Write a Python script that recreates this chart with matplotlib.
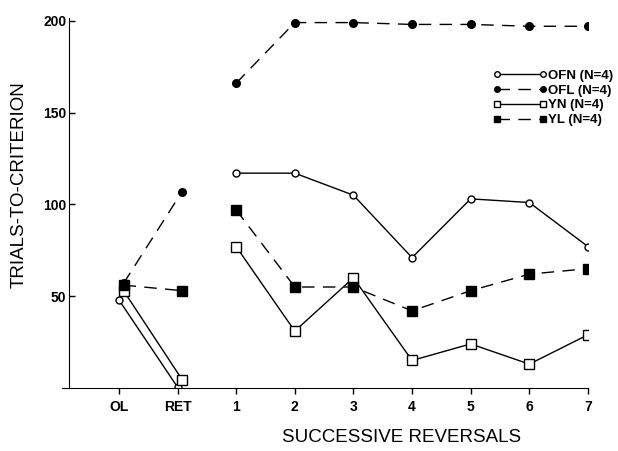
import numpy as np
import matplotlib
matplotlib.use('Agg')
from matplotlib import pyplot as plt

plt.rcParams['font.family'] = ['Liberation Sans', 'DejaVu Sans']

###### Data
tick_labels = ['OL', 'RET', '1', '2', '3', '4', '5', '6', '7']
x_pre = [0, 1]          # OL, RET
x_rev = [2, 3, 4, 5, 6, 7, 8]   # reversals 1..7

OFN_pre = [48, 0.5]
OFN_rev = [117, 117, 105, 71, 103, 101, 77]
OFL_pre = [57, 107]
OFL_rev = [166, 199, 199, 198, 198, 197, 197]
YN_pre = [53, 4.5]
YN_rev = [77, 31, 60, 15, 24, 13, 29]
YL_pre = [56, 53]
YL_rev = [97, 55, 55, 42, 53, 62, 65]

###### Plot
fig = plt.figure(figsize=(6.18, 4.51), dpi=100)
ax = fig.add_axes([0.1003, 0.1397, 0.8511, 0.8204])

dash = (0, (9, 6))
sty = {
    'OFN': dict(color='k', lw=1.0, ls='-', marker='o', ms=5, mfc='white', mec='k', mew=1.0),
    'OFL': dict(color='k', lw=1.0, ls=dash, marker='o', ms=5.5, mfc='k', mec='k'),
    'YN': dict(color='k', lw=1.0, ls='-', marker='s', ms=6.5, mfc='white', mec='k', mew=1.0),
    'YL': dict(color='k', lw=1.0, ls=dash, marker='s', ms=6.5, mfc='k', mec='k'),
}

series = [('OFN', OFN_pre, OFN_rev), ('OFL', OFL_pre, OFL_rev),
          ('YN', YN_pre, YN_rev), ('YL', YL_pre, YL_rev)]
handles = []
for name, pre, rev in series:
    ax.plot(np.array(x_pre) + 0.08 * (name in ('YN', 'YL', 'OFL')), pre, **sty[name])
    h, = ax.plot(x_rev, rev, **sty[name])
    handles.append(h)

ax.set_xlim(-0.97, 8.0)
ax.set_ylim(0, 201.5)
ax.spines['top'].set_visible(False)
ax.spines['right'].set_visible(False)
ax.spines['left'].set_position(('data', -0.85))
ax.spines['left'].set_bounds(0, 201.5)

ax.set_xticks(range(9))
ax.set_xticklabels(tick_labels, fontsize=10, fontweight='bold')
ax.set_yticks([50, 100, 150, 200])
ax.set_yticklabels(['50', '100', '150', '200'], fontsize=10, fontweight='bold')
ax.tick_params(axis='x', direction='out', length=4, width=1, pad=5)
ax.tick_params(axis='y', direction='in', length=4, width=1, pad=2)

ax.set_xlabel('SUCCESSIVE REVERSALS', fontsize=13.5)
ax.set_ylabel('TRIALS-TO-CRITERION', fontsize=13.5)
ax.xaxis.set_label_coords(0.646, -0.11)
ax.yaxis.set_label_coords(-0.065, 0.55)

leg = ax.legend(handles, ['OFN (N=4)', 'OFL (N=4)', 'YN (N=4)', 'YL (N=4)'],
                loc='upper left', bbox_to_anchor=(0.797, 0.846), bbox_transform=fig.transFigure,
                frameon=False, numpoints=2, handlelength=4.1, handletextpad=0.1,
                labelspacing=0.2, borderpad=0, borderaxespad=0,
                prop={'size': 9.5, 'weight': 'bold'})
for lh, m in zip(leg.legend_handles, [4, 4, 5, 5]):
    lh.set_markersize(m)

fig.savefig('out.png', dpi=100)
